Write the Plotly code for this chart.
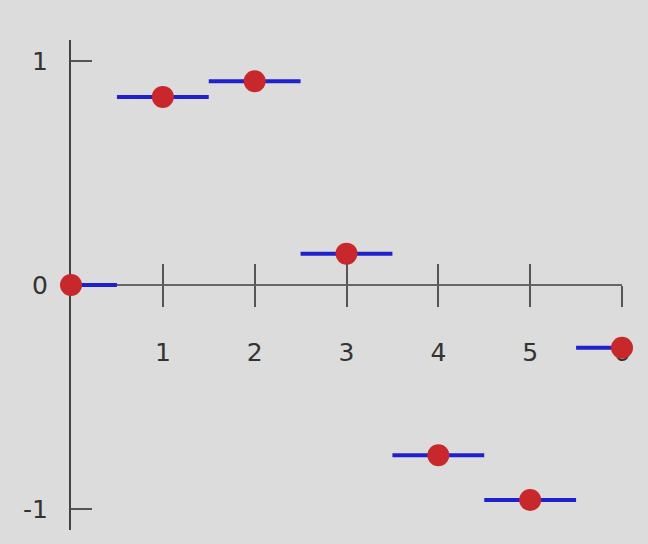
import plotly.graph_objects as go

n_values = [0, 1, 2, 3, 4, 5, 6]
y_values = [0.0, 0.84, 0.91, 0.14, -0.76, -0.96, -0.28]
x_ticks = [1, 2, 3, 4, 5, 6]
y_ticks = [-1, 0, 1]
y_tick_text = ["-1", "0", "1"]

seg_x, seg_y = [], []
for n, v in zip(n_values, y_values):
    seg_x += [max(n - 0.5, 0), min(n + 0.5, 6), None]
    seg_y += [v, v, None]

fig = go.Figure()
fig.add_trace(go.Scatter(x=[0], y=[0], xaxis="x2", mode="markers",
                         marker=dict(opacity=0), hoverinfo="skip", showlegend=False))
fig.add_trace(go.Scatter(x=seg_x, y=seg_y, mode="lines",
                         line=dict(color="#2020cc", width=4), cliponaxis=False,
                         showlegend=False))
fig.add_trace(go.Scatter(x=n_values, y=y_values, mode="markers",
                         marker=dict(color="#c8282c", size=22), cliponaxis=False,
                         showlegend=False))

font = dict(family="DejaVu Sans", size=25, color="#333333")
fig.update_layout(
    width=648, height=544,
    margin=dict(l=71, r=26, t=40, b=14),
    paper_bgcolor="#dcdcdc", plot_bgcolor="#dcdcdc",
    xaxis=dict(range=[0, 6], tickvals=x_ticks, ticks="outside", ticklen=21,
               tickwidth=1.5, tickcolor="#555555", showgrid=False, zeroline=False,
               showline=True, linecolor="#666666", linewidth=2,
               anchor="free", position=0.5, tickfont=font,
               ticklabelstandoff=24, layer="below traces"),
    xaxis2=dict(range=[0, 6], tickvals=x_ticks, ticks="inside", ticklen=21,
                tickwidth=1.5, tickcolor="#555555", showgrid=False, zeroline=False,
                showticklabels=False, overlaying="x", anchor="free", position=0.5,
                showline=False, layer="below traces"),
    yaxis=dict(range=[-1.094, 1.094], tickvals=y_ticks, ticktext=y_tick_text,
               ticks="inside", ticklen=21,
               tickwidth=1.5, tickcolor="#555555", showgrid=False, zeroline=False,
               showline=True, linecolor="#444444", linewidth=2, tickfont=font,
               ticklabelstandoff=16, layer="below traces"),
)
fig.write_html("out.html", config={"displayModeBar": False},
               post_script="document.body.style.margin='0';"
                           "document.body.style.background='#dcdcdc';")
